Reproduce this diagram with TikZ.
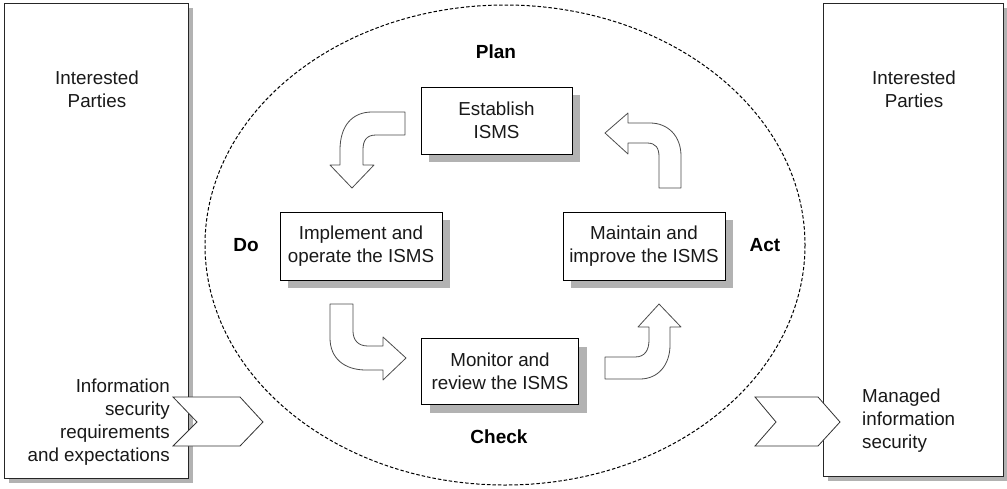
\documentclass[tikz,border=0pt]{standalone}
\usepackage{fontspec}
\setmainfont{Liberation Sans}
\usetikzlibrary{shadows}
\begin{document}
\begin{tikzpicture}[x=1pt,y=-1pt,
  txt/.style={font=\fontsize{18.8}{23}\selectfont, text=black!90, inner sep=0pt},
  lbl/.style={font=\fontsize{19}{23}\bfseries\selectfont, text=black, inner sep=0pt},
  box/.style={draw=black, line width=0.9pt, fill=white, align=center, inner sep=0pt,
    font=\fontsize{18.8}{23}\selectfont, text=black!90,
    drop shadow={shadow xshift=8pt, shadow yshift=-8pt, opacity=1, fill=gray!60}},
  party/.style={draw=black!85, line width=0.9pt, fill=white, inner sep=0pt,
    drop shadow={shadow xshift=5pt, shadow yshift=-5pt, opacity=1, fill=gray!60}},
  blockarrow/.style={draw=black!70, line width=0.8pt, fill=white, line join=round},
  chevron/.style={draw=black!80, line width=0.8pt, fill=white},
]
\useasboundingbox (0,0) rectangle (1007,488);

% dashed ellipse
\draw[black, line width=1pt, dash pattern=on 3.5pt off 2pt] (505,245) ellipse [x radius=300, y radius=240];

% interested parties boxes
\node[party, minimum width=184pt, minimum height=475pt] (left) at (96,240.5) {};
\node[party, minimum width=180pt, minimum height=473pt] (right) at (913,239.5) {};

\node[txt, align=center] (lefttitle) at (97,89) {Interested\\Parties};
\node[txt, align=center] (righttitle) at (914,89) {Interested\\Parties};
\node[txt, align=right, anchor=east] (req) at (170,422) {Information\\security\\requirements\\and expectations};
\node[txt, align=left, anchor=west] (managed) at (862,421) {Managed\\information\\security};

% chevrons
\draw[chevron] (173,397) -- (240,397) -- (263,422) -- (240,446) -- (173,446) -- (197,422) -- cycle;
\draw[chevron] (755,397) -- (818,397) -- (840,422) -- (818,446) -- (755,446) -- (776,422) -- cycle;

% PDCA boxes
\node[box, minimum width=151pt, minimum height=67pt] (plan) at (496.5,120.5) {Establish\\ISMS};
\node[box, minimum width=162pt, minimum height=68pt] (do) at (361,246) {Implement and\\operate the ISMS};
\node[box, minimum width=162pt, minimum height=68pt] (act) at (644,246) {Maintain and\\improve the ISMS};
\node[box, minimum width=157pt, minimum height=66pt] (check) at (500,371.5) {Monitor and\\review the ISMS};

% phase labels
\node[lbl] (planlbl) at (496,52) {Plan};
\node[lbl] (dolbl) at (246,245) {Do};
\node[lbl] (actlbl) at (765,245) {Act};
\node[lbl] (checklbl) at (499,437) {Check};

% curved block arrows
\draw[blockarrow] (405,112) -- (372,112) .. controls (352,112) and (340,126) .. (340,150)
  -- (340,165) -- (330,165) -- (352,188) -- (374,165) -- (363,165) -- (363,150)
  .. controls (363,141) and (366,135) .. (376,135) -- (405,135) -- cycle;

\draw[blockarrow] (605,133) -- (628,113) -- (628,123) -- (650,123)
  .. controls (668,123) and (681,136) .. (681,156) -- (681,188) -- (659,188) -- (659,157)
  .. controls (659,148) and (656,143) .. (647,143) -- (628,143) -- (628,154) -- cycle;

\draw[blockarrow] (330,304) -- (353,304) -- (353,331) .. controls (353,340) and (358,346) .. (368,346)
  -- (383,346) -- (383,337) -- (406,358) -- (383,380) -- (383,370) -- (366,370)
  .. controls (344,370) and (330,358) .. (330,338) -- cycle;

\draw[blockarrow] (605,357) -- (635,357) .. controls (645,357) and (649,350) .. (649,340)
  -- (649,327) -- (638,327) -- (659,304) -- (681,327) -- (670,327) -- (670,345)
  .. controls (670,365) and (658,379) .. (640,379) -- (605,379) -- cycle;
\end{tikzpicture}
\end{document}
